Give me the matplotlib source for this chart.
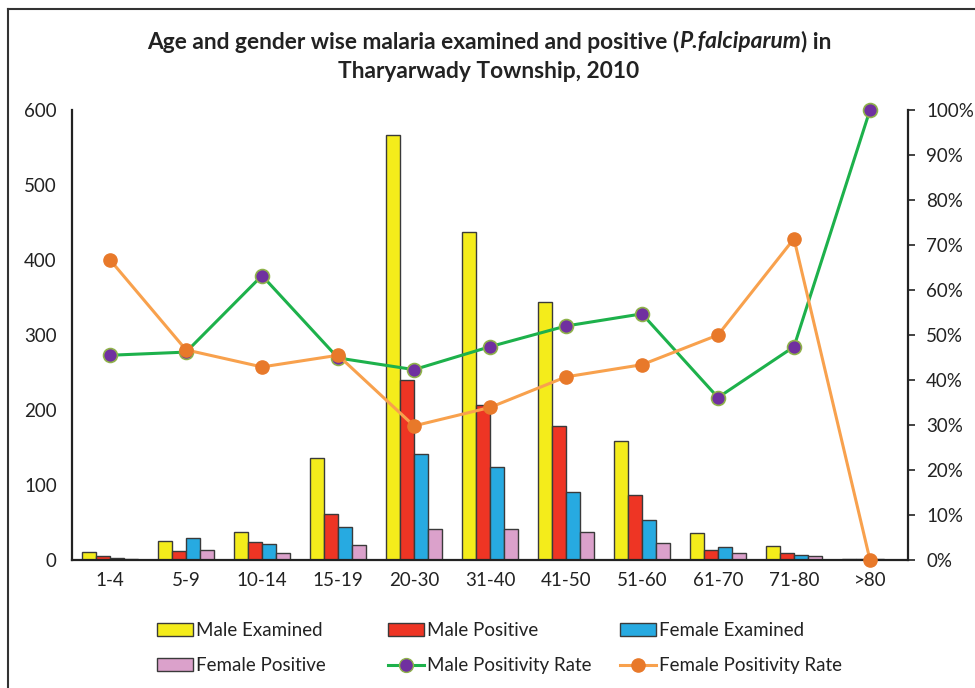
import numpy as np
import matplotlib
matplotlib.use("Agg")
import matplotlib.pyplot as plt
from matplotlib.lines import Line2D
from matplotlib.patches import Patch

plt.rcParams['font.family'] = ['Lato', 'DejaVu Sans']

# Data
age_groups = ['1-4', '5-9', '10-14', '15-19', '20-30', '31-40',
              '41-50', '51-60', '61-70', '71-80', '>80']
male_examined = [11, 26, 38, 136, 567, 437, 344, 159, 36, 19, 1]
male_positive = [5, 12, 24, 61, 240, 207, 179, 87, 13, 9, 1]
female_examined = [3, 30, 21, 44, 141, 124, 91, 53, 18, 7, 1]
female_positive = [2, 14, 9, 20, 42, 42, 37, 23, 9, 5, 0]
male_rate = [45.5, 46.2, 63.2, 44.9, 42.3, 47.4, 52.0, 54.7, 36.1, 47.4, 100.0]
female_rate = [66.7, 46.7, 42.9, 45.5, 29.8, 33.9, 40.7, 43.4, 50.0, 71.4, 0.0]

# Colours
c_me = '#F4EC1B'
c_mp = '#EE3524'
c_fe = '#27AAE1'
c_fp = '#DBA1CB'
c_green = '#1DB14B'
c_purple = '#7030A0'
c_orange_line = '#F8A14D'
c_orange_mk = '#E8792A'
edge = '#3a3a3a'
txt = '#222222'

fig = plt.figure(figsize=(9.75, 6.88), dpi=100)
ax = fig.add_axes([72 / 975, 128 / 688, 836 / 975, 450 / 688])

x = np.arange(len(age_groups))
w = 0.185
series = [(male_examined, c_me), (male_positive, c_mp),
          (female_examined, c_fe), (female_positive, c_fp)]
for i, (vals, col) in enumerate(series):
    ax.bar(x + (i - 1.5) * w, vals, width=w, color=col,
           edgecolor=edge, linewidth=1.0, zorder=2)

ax.set_xlim(-0.5, len(age_groups) - 0.5)
ax.set_ylim(0, 600)
ax.set_yticks(np.arange(0, 601, 100))
ax.set_xticks(x)
ax.set_xticklabels(age_groups)
ax.tick_params(axis='y', length=0, pad=11, labelsize=13.5, colors=txt)
ax.tick_params(axis='x', length=0, pad=9, labelsize=13.5, colors=txt)
for s in ['top', 'right']:
    ax.spines[s].set_visible(False)
for s in ['left', 'bottom']:
    ax.spines[s].set_linewidth(1.6)
    ax.spines[s].set_color(txt)

ax2 = ax.twinx()
ax2.set_ylim(0, 100)
ax2.set_yticks(np.arange(0, 101, 10))
ax2.set_yticklabels([f'{v}%' for v in range(0, 101, 10)])
ax2.tick_params(axis='y', length=5, width=1.2, pad=8, labelsize=13.5,
                colors=txt)
for s in ['top', 'left', 'bottom']:
    ax2.spines[s].set_visible(False)
ax2.spines['right'].set_linewidth(1.6)
ax2.spines['right'].set_color(txt)

ax2.plot(x, male_rate, color=c_green, linewidth=2.2, marker='o',
         markersize=10, markerfacecolor=c_purple,
         markeredgecolor='#8FB24A', markeredgewidth=1.2, zorder=3,
         clip_on=False)
ax2.plot(x, female_rate, color=c_orange_line, linewidth=2.2, marker='o',
         markersize=9.5, markerfacecolor=c_orange_mk,
         markeredgecolor=c_orange_mk, zorder=3, clip_on=False)

# Title: bold text with italic species name, built from pieces
renderer = fig.canvas.get_renderer()
pieces = ['Age and gender wise malaria examined and positive (',
          'P.falciparum', ') in']
styles = ['normal', 'italic', 'normal']
title_fs = 16.4
texts = []
for p, st in zip(pieces, styles):
    t = fig.text(0, 1 - 42 / 688, p, ha='left', va='center',
                 fontsize=title_fs, fontweight='bold', fontstyle=st, color=txt)
    texts.append(t)
widths = [t.get_window_extent(renderer).width for t in texts]
start = 489 - sum(widths) / 2
for t, wd in zip(texts, widths):
    t.set_x(start / 975)
    start += wd
fig.text(489 / 975, 1 - 72 / 688, 'Tharyarwady Township, 2010',
         ha='center', va='center', fontsize=title_fs, fontweight='bold',
         color=txt)

# Legend: three fixed columns like the original
col_handles = [
    [Patch(facecolor=c_me, edgecolor=edge, label='Male Examined'),
     Patch(facecolor=c_fp, edgecolor=edge, label='Female Positive')],
    [Patch(facecolor=c_mp, edgecolor=edge, label='Male Positive'),
     Line2D([0], [0], color=c_green, linewidth=2.2, marker='o', markersize=10,
            markerfacecolor=c_purple, markeredgecolor='#8FB24A',
            label='Male Positivity Rate')],
    [Patch(facecolor=c_fe, edgecolor=edge, label='Female Examined'),
     Line2D([0], [0], color=c_orange_line, linewidth=2.2, marker='o',
            markersize=9.5, markerfacecolor=c_orange_mk,
            markeredgecolor=c_orange_mk, label='Female Positivity Rate')],
]
col_x = [157, 388, 620]
for hs, cx in zip(col_handles, col_x):
    fig.legend(handles=hs, loc='center left', frameon=False,
               bbox_to_anchor=(cx / 975, 1 - 648 / 688), fontsize=13.5,
               handlelength=1.9, handleheight=0.7, handletextpad=0.2,
               labelspacing=1.0, borderpad=0, borderaxespad=0,
               labelcolor=txt)

# Outer frame lines
fig.add_artist(Line2D([8 / 975, 8 / 975], [0, 1 - 9 / 688],
                      color='#333333', linewidth=1.5))
fig.add_artist(Line2D([8 / 975, 1], [1 - 9 / 688, 1 - 9 / 688],
                      color='#333333', linewidth=1.5))

fig.savefig('out.png', dpi=100)
